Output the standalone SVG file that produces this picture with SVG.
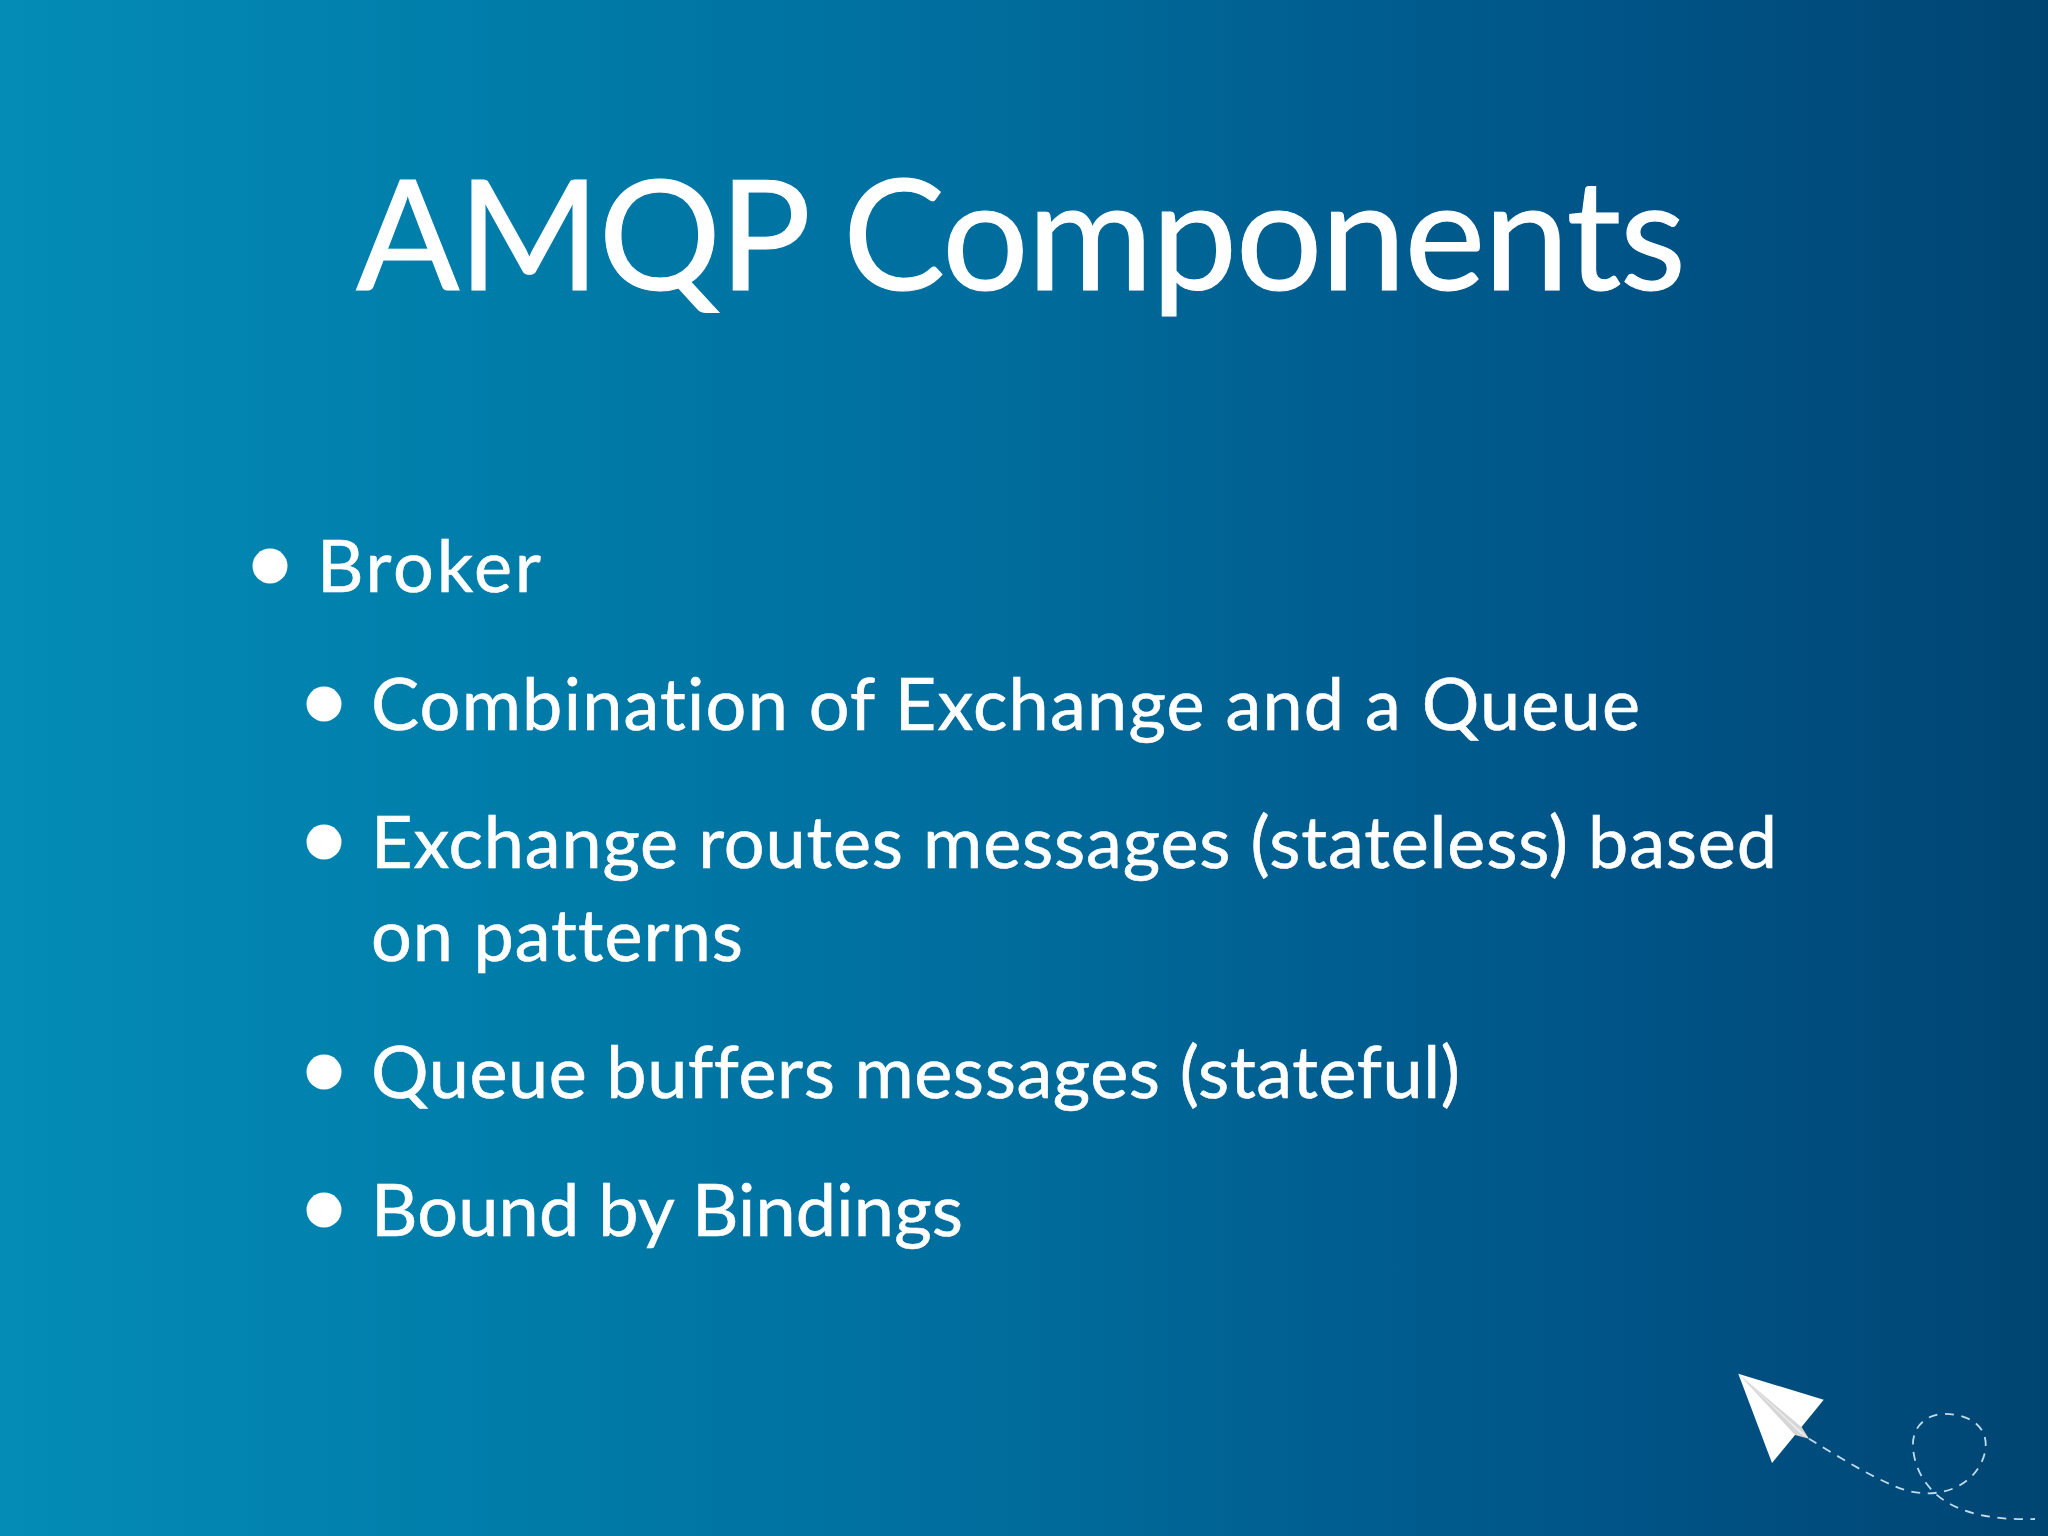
<svg xmlns="http://www.w3.org/2000/svg" width="2048" height="1536" viewBox="0 0 2048 1536">
<style>
text{font-family:"Lato","Noto Sans","Liberation Sans",sans-serif;fill:#fff;font-variant-ligatures:none;stroke:#fff}
.t{font-size:153px;stroke-width:1}
.b{font-size:72px;stroke-width:.6}
.d{fill:#fff}
</style>
<defs>
<linearGradient id="bg" x1="0" y1="0" x2="1" y2="0">
<stop offset="0" stop-color="#048cb6"/>
<stop offset="0.25" stop-color="#007ca9"/>
<stop offset="0.5" stop-color="#006c9c"/>
<stop offset="0.62" stop-color="#006192"/>
<stop offset="0.8" stop-color="#005386"/>
<stop offset="1" stop-color="#004572"/>
</linearGradient>
</defs>
<rect width="2048" height="1536" fill="url(#bg)"/>
<g id="title"><text class="t" x="356" y="290" textLength="1330">AMQP Components</text></g>
<g id="item-broker"><circle class="d" cx="270" cy="566" r="17.5"/><text class="b" x="317" y="592" textLength="224">Broker</text></g>
<g id="item-combination"><circle class="d" cx="324" cy="704" r="17.5"/><text class="b" x="371" y="730" textLength="1269">Combination of Exchange and a Queue</text></g>
<g id="item-exchange"><circle class="d" cx="324" cy="842" r="17.5"/><text class="b" x="371" y="868" textLength="1406">Exchange routes messages (stateless) based</text><text class="b" x="371" y="961" textLength="372">on patterns</text></g>
<g id="item-queue"><circle class="d" cx="324" cy="1072" r="17.5"/><text class="b" x="371" y="1098" textLength="1089">Queue buffers messages (stateful)</text></g>
<g id="item-bound"><circle class="d" cx="324" cy="1210" r="17.5"/><text class="b" x="371" y="1236" textLength="592">Bound by Bindings</text></g>
<g id="plane">
<path d="M1809 1438.7C1840 1458 1880 1482 1905 1490C1930 1497 1955 1493 1972 1476C1985 1462 1989 1445 1983 1432C1975 1418 1958 1413 1940 1414C1922 1417 1912 1430 1913 1447C1914 1467 1925 1488 1945 1501C1970 1517 2005 1520 2035 1519" fill="none" stroke="#bcdcf0" stroke-width="1.8" stroke-dasharray="9 7.5"/>
<path d="M1738.3 1373.7L1823.7 1399.7L1795 1435L1772 1463Z" fill="#fff"/>
<path d="M1738.3 1373.7L1801.7 1427.3L1809 1438.7L1795 1435Z" fill="#d6d6d6"/>
<path d="M1738.3 1373.7L1804 1434L1809 1438.7L1800 1433Z" fill="#ededed"/>
</g>
</svg>
